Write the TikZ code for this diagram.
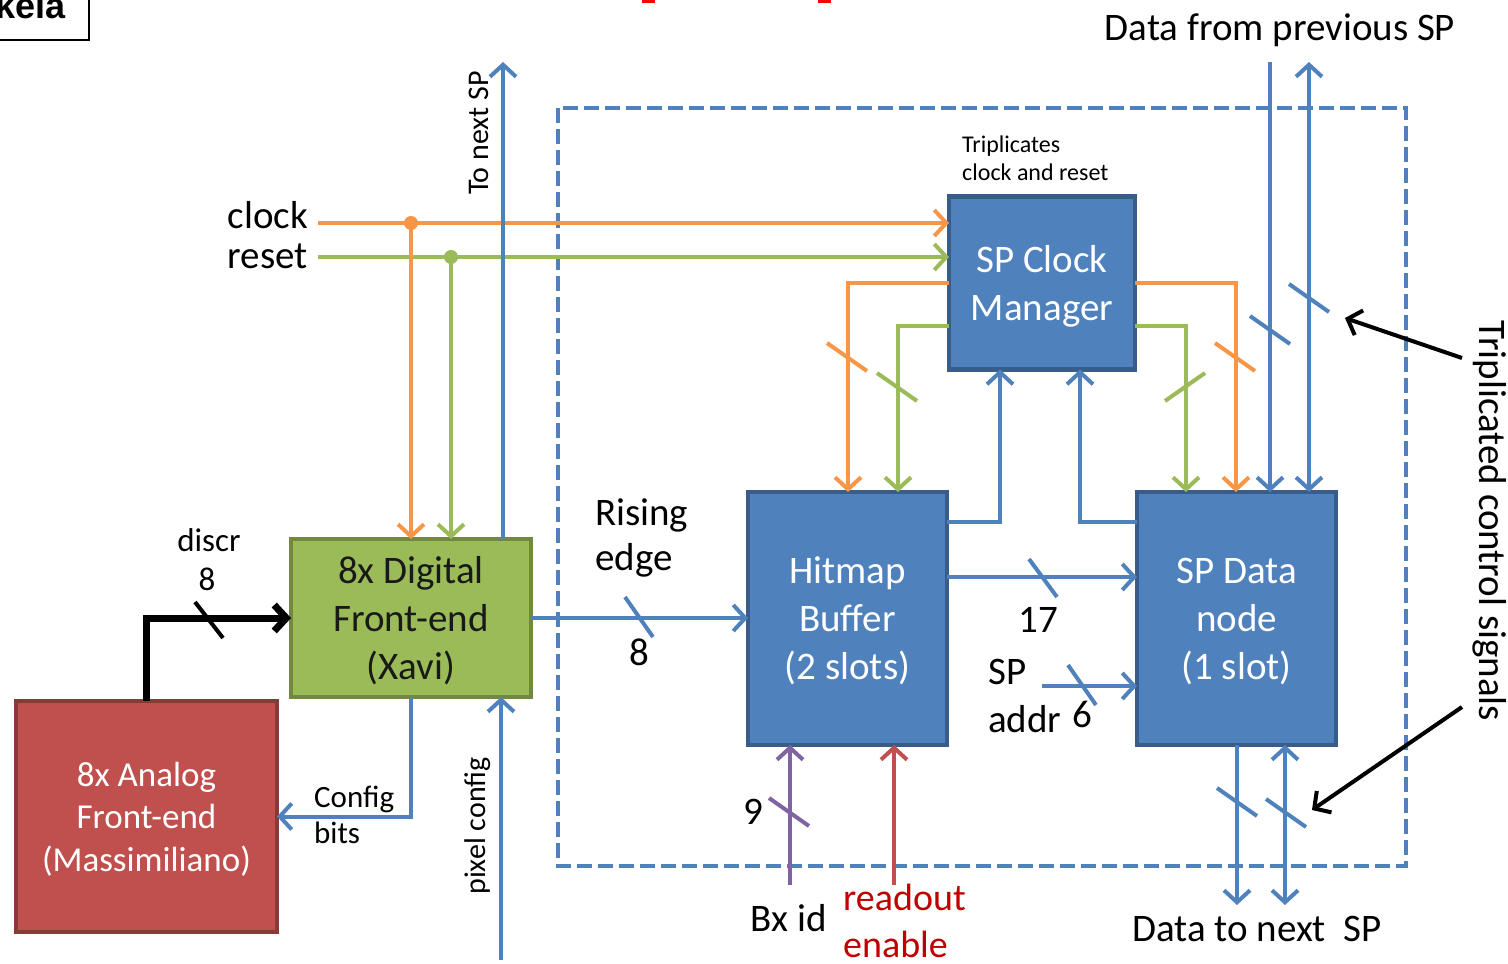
\documentclass[tikz,border=0pt]{standalone}
\usepackage{fontspec}
\setmainfont{Carlito}
\newfontfamily\titlefont{Liberation Sans}
\usetikzlibrary{arrows.meta}

\definecolor{boxblue}{HTML}{4F81BD}
\definecolor{boxblueline}{HTML}{385D8A}
\definecolor{wireorange}{HTML}{F79646}
\definecolor{wiregreen}{HTML}{9BBB59}
\definecolor{boxgreenline}{HTML}{71893F}
\definecolor{boxred}{HTML}{C0504D}
\definecolor{boxredline}{HTML}{8C3836}
\definecolor{wirepurple}{HTML}{8064A2}
\definecolor{labelred}{HTML}{C00000}

\newcommand{\bigfont}{\fontsize{39}{48}\selectfont}
\newcommand{\midfont}{\fontsize{31}{36}\selectfont}

\begin{document}
\begin{tikzpicture}[x=1pt, y=-1pt,
		>={Straight Barb[length=12pt,width=26pt]},
		block/.style={draw=boxblueline, fill=boxblue, line width=4.5pt, text=white,
			align=center, inner sep=0pt, outer sep=0pt, text depth=0pt, font=\bigfont},
		wire/.style={line width=4pt, boxblue},
		busmark/.style={line width=4pt, #1},
		lbl/.style={font=\bigfont, inner sep=0pt}]
			\useasboundingbox (0,0) rectangle (1508,964);
			\clip (0,0) rectangle (1508,964);
			
			% Left-over of the slide title
			\draw[line width=1.5pt] (-20,-20) rectangle (89,40);
			\node (title) [anchor=base east, inner sep=0pt, font=\titlefont\bfseries\fontsize{36}{40}\selectfont] at (66,18) {kela};
			\fill[red] (642,-6) rectangle (655,3);
			\fill[red] (818,-6) rectangle (831,3);
			
			% Draw the super-pixel boundary
			\draw[boxblue, line width=4pt, dash pattern=on 15pt off 6pt] (558,108) rectangle (1406,866);
			
			% Draw the blocks
			\node (clkm) [block, minimum width=186, minimum height=173] at (1042,283) {SP Clock\\Manager};
			\node (hit) [block, minimum width=199, minimum height=253] at (847.5,618.5) {Hitmap\\Buffer\\(2 slots)};
			\node (data) [block, minimum width=199, minimum height=253] at (1236.5,618.5) {SP Data\\node\\(1 slot)};
			\node (dfe) [block, draw=boxgreenline, fill=wiregreen, text=black!90,
				minimum width=240, minimum height=158] at (411,618) {8x Digital\\Front-end\\(Xavi)};
			\node (afe) [block, draw=boxredline, fill=boxred, font=\fontsize{35}{42.5}\selectfont,
				minimum width=261, minimum height=231] at (146.5,816.5) {8x Analog\\Front-end\\(Massimiliano)};
			
			% Clock and reset distribution
			\coordinate (clkin) at (318,223);
			\coordinate (rstin) at (318,257);
			\coordinate (clkdot) at (411,223);
			\coordinate (rstdot) at (451,257);
			\node (clklbl) [lbl, anchor=base east] at (308,228) {clock};
			\node (rstlbl) [lbl, anchor=base east] at (308,268) {reset};
			\draw[wireorange, line width=4pt, ->] (clkin) -- (clkin -| clkm.west);
			\draw[wiregreen, line width=4pt, ->] (rstin) -- (rstin -| clkm.west);
			\fill[wireorange] (clkdot) circle (7pt);
			\fill[wiregreen] (rstdot) circle (7pt);
			\draw[wireorange, line width=4pt, ->] (clkdot) -- (clkdot |- dfe.north);
			\draw[wiregreen, line width=4pt, ->] (rstdot) -- (rstdot |- dfe.north);
			
			% To next SP
			\coordinate (tonext) at (503,62);
			\draw[wire, ->] (tonext |- dfe.north) -- (tonext);
			\node (tonextlbl) [rotate=90, inner sep=0pt, font=\fontsize{30}{36}\selectfont] at (479,133) {To next SP};
			
			% Triplicated clock and reset out of the clock manager
			\coordinate (ol) at (848,283);
			\coordinate (gl) at (898,326);
			\coordinate (or) at (1236,283);
			\coordinate (gr) at (1186,326);
			\draw[wireorange, line width=4pt, ->] (clkm.west |- ol) -| (hit.north -| ol);
			\draw[wiregreen, line width=4pt, ->] (clkm.west |- gl) -| (hit.north -| gl);
			\draw[wireorange, line width=4pt, ->] (clkm.east |- or) -| (data.north -| or);
			\draw[wiregreen, line width=4pt, ->] (clkm.east |- gr) -| (data.north -| gr);
			\node (tripl) [anchor=west, align=left, inner sep=0pt, font=\fontsize{24}{28}\selectfont] at (962,158) {Triplicates\\clock and reset};
			
			% Feedback into the clock manager
			\coordinate (hc) at (1000,522);
			\coordinate (dc) at (1080,522);
			\draw[wire, ->] (hit.east |- hc) -| (clkm.south -| hc);
			\draw[wire, ->] (data.west |- dc) -| (clkm.south -| dc);
			
			% Data from / to the neighbouring SPs
			\coordinate (dp1) at (1270,62);
			\coordinate (dp2) at (1309,62);
			\coordinate (dn1) at (1237,905);
			\coordinate (dn2) at (1285,905);
			\draw[wire, ->] (dp1) -- (dp1 |- data.north);
			\draw[wire, <->] (dp2) -- (dp2 |- data.north);
			\draw[wire, ->] (dn1 |- data.south) -- (dn1);
			\draw[wire, <->] (dn2) -- (dn2 |- data.south);
			\node (prevlbl) [lbl] at (1280,30) {Data from previous SP};
			\node (nextlbl) [lbl] at (1257,929) {Data to next\ \ SP};
			
			% Hitmap to data node
			\coordinate (h17) at (1000,577);
			\coordinate (addr) at (1042,686);
			\draw[wire, ->] (hit.east |- h17) -- (data.west |- h17);
			\draw[wire, ->] (addr) -- (addr -| data.west);
			\node (n17) [lbl] at (1038,620) {17};
			\node (addrlbl) [lbl, anchor=west, align=left] at (988,696) {SP\\addr};
			\node (n6) [lbl] at (1082,714) {6};
			
			% Front-end connections
			\draw[wire, ->] (dfe.east) -- (dfe.east -| hit.west);
			\node (rislbl) [lbl, anchor=west, align=left, font=\fontsize{39}{45}\selectfont] at (595,538) {Rising\\edge};
			\node (n8r) [lbl] at (639,652) {8};
			\draw[black, line width=7pt, ->] (afe.north) |- (dfe.west);
			\node (discrlbl) [lbl, font=\fontsize{33}{38}\selectfont] at (209,540) {discr};
			\node (n8d) [lbl, font=\fontsize{33}{38}\selectfont] at (207,579) {8};
			\draw[wire, ->] (dfe.south) |- (afe.east);
			\node (cfglbl) [anchor=west, align=left, inner sep=0pt, font=\midfont] at (314,815) {Config\\bits};
			\coordinate (pc) at (501,960);
			\draw[wire, ->] (pc) -- (pc |- dfe.south);
			\node (pixlbl) [rotate=90, inner sep=0pt, font=\fontsize{30}{36}\selectfont] at (478,826) {pixel config};
			
			% Bx id and readout enable
			\coordinate (bx) at (790,885);
			\coordinate (ro) at (894,885);
			\draw[wirepurple, line width=4pt, ->] (bx) -- (bx |- hit.south);
			\draw[boxred, line width=4pt, ->] (ro) -- (ro |- hit.south);
			\node (n9) [lbl] at (753,812) {9};
			\node (bxlbl) [lbl] at (789,918) {Bx id};
			\node (rolbl) [lbl, anchor=west, align=left, text=labelred, font=\fontsize{38}{47}\selectfont] at (843,921) {readout\\enable};
			
			% Bus width marks
			\draw[busmark=wireorange] (847,357) ++(-20,-14) -- ++(40,28);
			\draw[busmark=wiregreen] (897,387) ++(-20,-14) -- ++(40,28);
			\draw[busmark=wireorange] (1235,357) ++(-20,-14) -- ++(40,28);
			\draw[busmark=wiregreen] (1185,387) ++(-20,14) -- ++(40,-28);
			\draw[busmark=boxblue] (1270,330) ++(-20,-14) -- ++(40,28);
			\draw[busmark=boxblue] (1309,298) ++(-20,-14) -- ++(40,28);
			\draw[busmark=boxblue] (1237,802) ++(-20,-14) -- ++(40,28);
			\draw[busmark=boxblue] (1286,813) ++(-20,-14) -- ++(40,28);
			\draw[busmark=boxblue] (1043,578) ++(-14,-19) -- ++(28,38);
			\draw[busmark=boxblue] (1082,685) ++(-14,-20) -- ++(28,40);
			\draw[busmark=boxblue] (639,617) ++(-14,-20) -- ++(28,40);
			\draw[busmark=black] (209,620) ++(-14,-18) -- ++(28,36);
			\draw[busmark=wirepurple] (789,812) ++(-20,-14) -- ++(40,28);
			
			% Triplicated control signals
			\node (tcs) [lbl, rotate=-90] at (1490,521) {Triplicated control signals};
			\coordinate (tcsa) at (1462,358);
			\coordinate (tcsaend) at (1345,318);
			\coordinate (tcsb) at (1462,707);
			\coordinate (tcsbend) at (1312,810);
			\draw[black, line width=4pt, ->] (tcsa) -- (tcsaend);
			\draw[black, line width=4pt, ->] (tcsb) -- (tcsbend);
		\end{tikzpicture}
\end{document}
